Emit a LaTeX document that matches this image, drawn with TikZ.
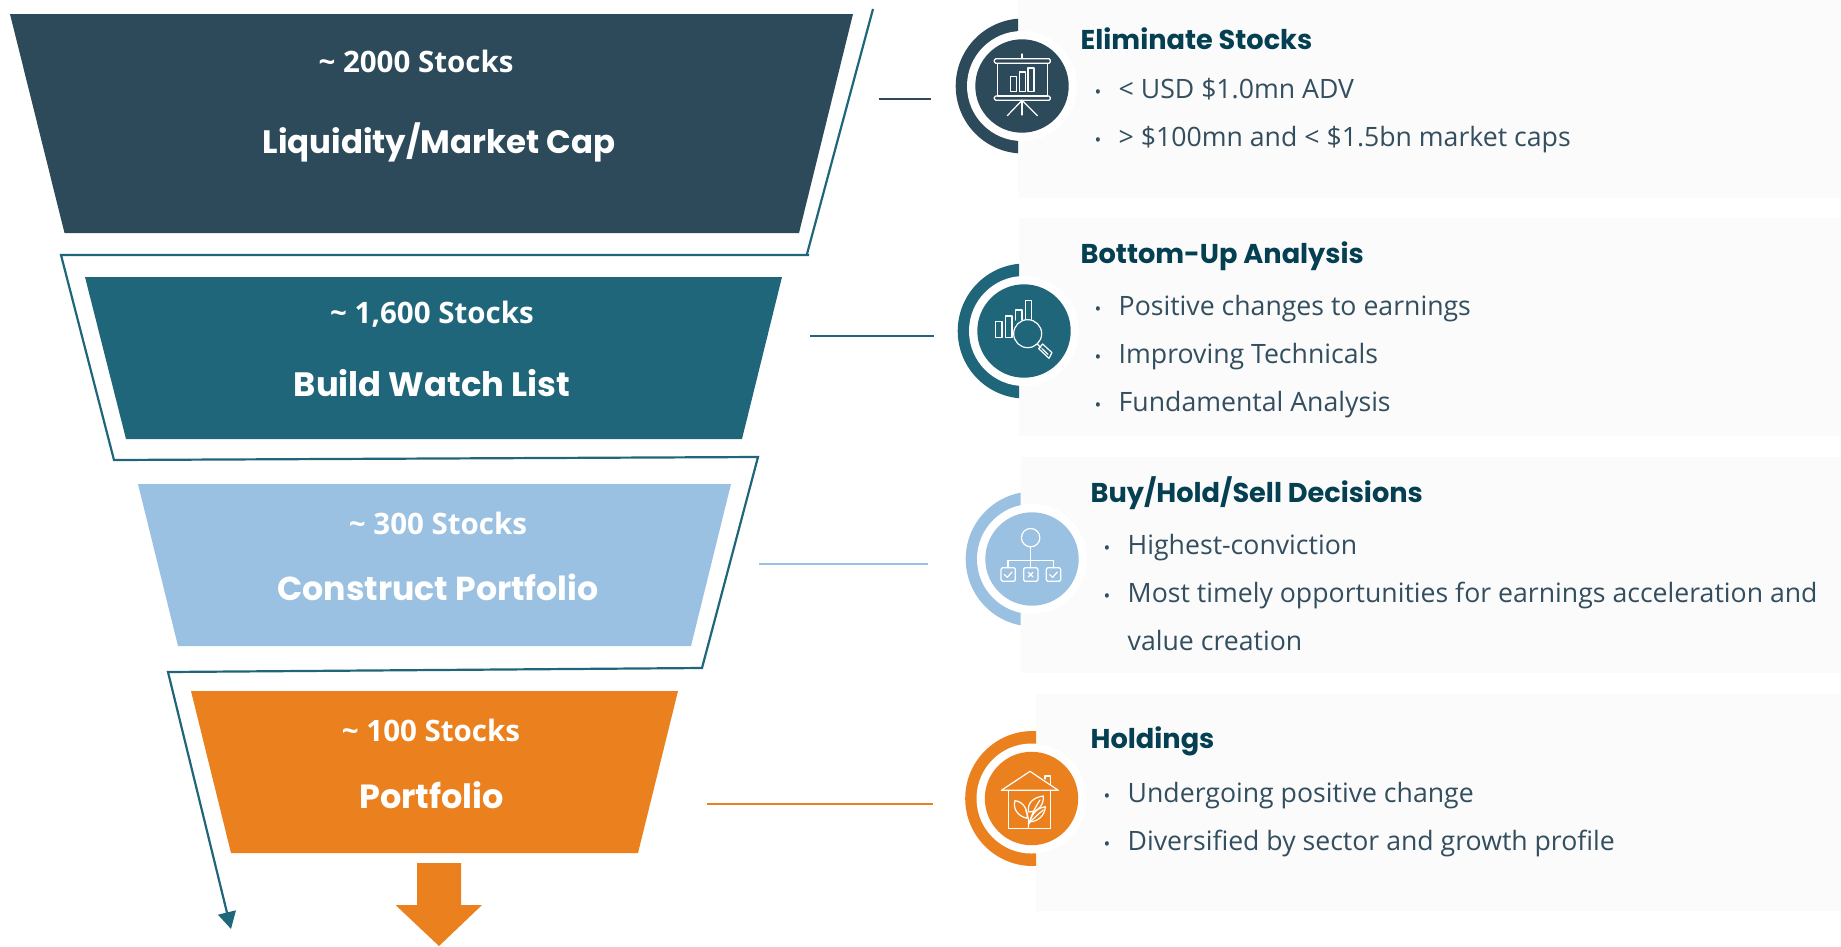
\documentclass[tikz,border=0pt]{standalone}
\usepackage{fontspec}
\setmainfont{Open Sans}
\newfontfamily\headfont{Poppins}[BoldFont={Poppins Bold}]
\usetikzlibrary{arrows.meta}
\definecolor{cdark}{HTML}{2C4A5A}
\definecolor{cteal}{HTML}{20667A}
\definecolor{clight}{HTML}{9AC1E1}
\definecolor{corange}{HTML}{EB811E}
\definecolor{chead}{HTML}{043F52}
\definecolor{cbody}{HTML}{334E5E}
\definecolor{cpanel}{HTML}{FBFBFB}
\tikzset{
  x=1pt,y=-1pt,
  basetext/.style={inner sep=0pt,outer sep=0pt,anchor=base},
  stockcount/.style={basetext,text=white,font=\fontsize{29.5}{30}\selectfont\bfseries},
  stagetitle/.style={basetext,text=white,font=\headfont\fontsize{#1}{34}\selectfont\bfseries},
  panelhead/.style={inner sep=0pt,anchor=base west,text=chead,font=\headfont\fontsize{27.2}{28}\selectfont\bfseries},
  bodyline/.style={inner sep=0pt,anchor=base west,text=cbody,font=\fontsize{26.65}{27}\selectfont},
  bulletmark/.style={inner sep=0pt,anchor=base,text=cbody,font=\fontsize{18}{18}\selectfont},
  panel/.style={fill=cpanel},
  funnelline/.style={draw=cteal,line width=2.2pt,line join=miter},
  link/.style={line width=2pt},
  icon/.style={draw=white,line width=1.2pt,line join=round,line cap=round,fill=none},
}
\newcommand{\badge}[4]{%
  \begin{scope}
    \clip (900,0) rectangle (#3,946);
    \fill[#4] (#1+1.2,#2) circle[radius=67.5pt];
  \end{scope}
  \fill[white] (#1,#2) circle[radius=55pt];
  \fill[#4] (#1,#2) circle[radius=46.7pt];
}
\begin{document}
\begin{tikzpicture}
\useasboundingbox (0,0) rectangle (1841,946);
\fill[white] (0,0) rectangle (1841,946);

% panels
\fill[panel] (1018,0) rectangle (1841,198);
\fill[panel] (1019,218) rectangle (1841,436);
\fill[panel] (1020.5,457) rectangle (1841,673);
\fill[panel] (1036,694) rectangle (1841,911);

% funnel stages
\fill[cdark] (10,14) -- (853,14) -- (799,233) -- (64.5,233) -- cycle;
\fill[cteal] (85,277) -- (782,277) -- (742,439) -- (126,439) -- cycle;
\fill[clight] (138,484) -- (731,484) -- (691,646) -- (178,646) -- cycle;
\fill[corange] (191,691) -- (678,691) -- (638,853) -- (231,853) -- cycle;
\fill[corange] (417,863) -- (461,863) -- (461,905) -- (482,905) -- (439,946) -- (395.5,905) -- (417,905) -- cycle;

% funnel outline
\coordinate (f0) at (873,9);
\coordinate (f1) at (807,254);
\coordinate (f1b) at (809,255);
\coordinate (f2) at (61,255);
\coordinate (f3) at (114,460);
\coordinate (f4) at (758,457);
\coordinate (f5) at (702,668);
\coordinate (f6) at (168,672);
\coordinate (f7) at (231,929);
\draw[funnelline] (f0) -- (f1);
\draw[funnelline,-{Triangle[length=17pt,width=18pt]}] (f1b) -- (f2) -- (f3) -- (f4) -- (f5) -- (f6) -- (f7);

% link lines
\coordinate (l1a) at (879,99);  \coordinate (l1b) at (931,99);
\coordinate (l2a) at (810,336); \coordinate (l2b) at (934,336);
\coordinate (l3a) at (759,564); \coordinate (l3b) at (928,564);
\coordinate (l4a) at (707,804); \coordinate (l4b) at (933,804);
\draw[link,cdark] (l1a) -- (l1b);
\draw[link,cteal] (l2a) -- (l2b);
\draw[link,clight] (l3a) -- (l3b);
\draw[link,corange] (l4a) -- (l4b);

% badges
\badge{1022}{86}{1018}{cdark}
\badge{1024}{331}{1019}{cteal}
\badge{1032}{559}{1020.5}{clight}
\badge{1031.5}{798.5}{1036}{corange}

% icon 1: presentation board
\begin{scope}[shift={(930,0)},x=0.3333pt,y=-0.3333pt]
  \draw[icon] (276,162) -- (276,176);
  \draw[icon,rounded corners=1.5pt] (193,176) rectangle (361,190);
  \draw[icon] (203,190) rectangle (352,288);
  \draw[icon,rounded corners=1.5pt] (193,288) rectangle (361,301);
  \draw[icon] (242,230) rectangle (260,274);
  \draw[icon] (268,216) rectangle (286,274);
  \draw[icon] (294,204) rectangle (312,274);
  \draw[icon] (276,301) -- (232,347);
  \draw[icon] (276,301) -- (276,345);
  \draw[icon] (276,301) -- (322,347);
\end{scope}

% icon 2: chart and magnifier
\begin{scope}[shift={(930,240)},x=0.3333pt,y=-0.3333pt]
  \draw[icon] (197,292) -- (197,244) -- (216,244) -- (216,292) -- cycle;
  \draw[icon] (226,292) -- (226,228) -- (246,228) -- (246,292) -- cycle;
  \draw[icon] (256,240) -- (256,210) -- (276,210) -- (276,240);
  \draw[icon] (286,238) -- (286,181) -- (304,181) -- (304,238);
  \draw[icon] (293,281) circle[radius=14pt];
  \draw[icon] (322,312) -- (333,323);
  \draw[icon] (326,326) -- (338,312) -- (366,338) -- (357,355) -- cycle;
  \draw[icon] (336,326) -- (354,343);
\end{scope}

% icon 3: decision tree
\begin{scope}[shift={(930,470)},x=0.3333pt,y=-0.3333pt]
  \draw[icon] (302,203) circle[radius=9.2pt];
  \draw[icon] (302,231) -- (302,293);
  \draw[icon] (234,293) -- (234,272) -- (370,272) -- (370,293);
  \draw[icon,rounded corners=1.5pt] (213,293) rectangle (256,334);
  \draw[icon,rounded corners=1.5pt] (281,293) rectangle (324,334);
  \draw[icon,rounded corners=1.5pt] (349,293) rectangle (392,334);
  \draw[icon] (223,314) -- (232,322) -- (246,306);
  \draw[icon] (359,314) -- (368,322) -- (382,306);
  \draw[icon] (295,307) -- (309,321);
  \draw[icon] (309,307) -- (295,321);
\end{scope}

% icon 4: house with leaves
\begin{scope}[shift={(930,710)},x=0.3333pt,y=-0.3333pt]
  \draw[icon] (214,241) -- (300,184) -- (385,241) -- cycle;
  \draw[icon] (236,241) -- (236,355) -- (362,355) -- (362,241);
  \draw[icon] (345,207) -- (345,198) -- (362,198) -- (362,225);
  \draw[icon] (295,352) .. controls (297,335) and (296,320) .. (287,300);
  \draw[icon] (296,342) .. controls (302,325) and (310,300) .. (330,270);
  \draw[icon] (297,340) .. controls (310,325) and (325,312) .. (340,300);
  \draw[icon] (291,325) .. controls (262,318) and (248,295) .. (255,272) .. controls (280,275) and (295,300) .. (291,325);
  \draw[icon] (296,306) .. controls (290,280) and (310,262) .. (340,258) .. controls (342,285) and (325,305) .. (296,306);
  \draw[icon] (300,335) .. controls (305,310) and (325,292) .. (346,290) .. controls (345,315) and (325,335) .. (300,335);
\end{scope}

% funnel labels
\node[stockcount] (c1) at (416,72.5) {\textasciitilde{} 2000 Stocks};
\node[stagetitle=32.4] (s1) at (439,153) {Liquidity/Market Cap};
\node[stockcount] (c2) at (432,323.5) {\textasciitilde{} 1,600 Stocks};
\node[stagetitle=33.8] (s2) at (432,396) {Build Watch List};
\node[stockcount] (c3) at (438,534.5) {\textasciitilde{} 300 Stocks};
\node[stagetitle=33.2] (s3) at (438,600.5) {Construct Portfolio};
\node[stockcount] (c4) at (431,741.5) {\textasciitilde{} 100 Stocks};
\node[stagetitle=33.5] (s4) at (431.5,808.5) {Portfolio};

% panel 1
\node[panelhead] (h1) at (1080.5,49) {Eliminate Stocks};
\node[bulletmark] (b11) at (1098,98) {•};
\node[bodyline] (t11) at (1118.5,98) {< USD \$1.0mn ADV};
\node[bulletmark] (b12) at (1098,146) {•};
\node[bodyline] (t12) at (1118.5,146) {> \$100mn and < \$1.5bn market caps};

% panel 2
\node[panelhead] (h2) at (1080.5,263) {Bottom-Up Analysis};
\node[bulletmark] (b21) at (1098,315) {•};
\node[bodyline] (t21) at (1118.5,315) {Positive changes to earnings};
\node[bulletmark] (b22) at (1098,363) {•};
\node[bodyline] (t22) at (1118.5,363) {Improving Technicals};
\node[bulletmark] (b23) at (1098,411) {•};
\node[bodyline] (t23) at (1118.5,411) {Fundamental Analysis};

% panel 3
\node[panelhead] (h3) at (1090.5,502) {Buy/Hold/Sell Decisions};
\node[bulletmark] (b31) at (1107,554) {•};
\node[bodyline] (t31) at (1127.5,554) {Highest-conviction};
\node[bulletmark] (b32) at (1107,602) {•};
\node[bodyline] (t32) at (1127.5,602) {Most timely opportunities for earnings acceleration and};
\node[bodyline] (t33) at (1127.5,650) {value creation};

% panel 4
\node[panelhead] (h4) at (1090.5,748) {Holdings};
\node[bulletmark] (b41) at (1107,802) {•};
\node[bodyline] (t41) at (1127.5,802) {Undergoing positive change};
\node[bulletmark] (b42) at (1107,850) {•};
\node[bodyline] (t42) at (1127.5,850) {Diversified by sector and growth profile};
\end{tikzpicture}
\end{document}
